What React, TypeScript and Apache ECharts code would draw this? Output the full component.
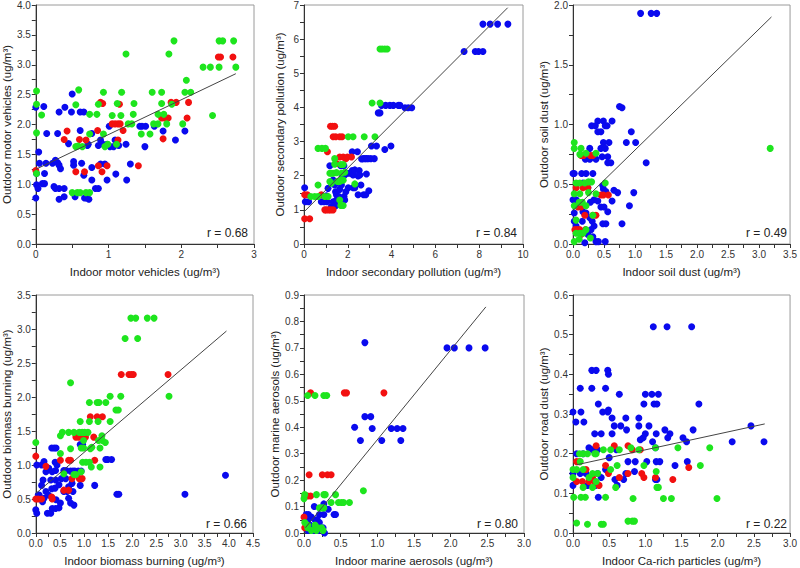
import React, { useEffect, useRef } from "react";
import * as echarts from "echarts";

type P = [number, number];

// ---------- Panel 1: motor vehicles ----------
const p1Blue: P[] = [[0.0,2.29],[0.04,1.54],[0.05,1.35],[0.01,1.18],[0.01,0.99],[0.03,0.93],[0.0,0.77],[0.09,1.01],[0.12,1.01],[0.12,1.18],[0.11,2.30],[0.15,1.85],[0.14,1.35],[0.25,0.96],[0.23,1.35],[0.30,1.36],[0.27,1.40],[0.32,1.32],[0.34,1.26],[0.27,0.93],[0.32,0.93],[0.39,0.93],[0.32,2.21],[0.30,1.85],[0.32,0.75],[0.40,2.29],[0.39,0.79],[0.45,1.68],[0.49,2.21],[0.50,2.51],[0.52,1.38],[0.52,1.32],[0.54,0.79],[0.61,1.90],[0.61,2.21],[0.66,2.21],[0.63,1.35],[0.66,1.15],[0.67,0.77],[0.70,0.77],[0.73,0.75],[0.71,1.65],[0.72,1.67],[0.77,1.85],[0.77,1.07],[0.77,1.28],[0.82,0.93],[0.86,0.93],[0.86,1.65],[0.89,1.74],[0.89,1.34],[0.95,1.34],[0.91,1.68],[0.98,1.07],[1.01,1.97],[0.98,1.67],[1.02,1.63],[1.07,1.63],[1.09,1.74],[1.10,1.17],[1.14,1.65],[1.25,1.07],[1.24,1.67],[1.30,1.34],[1.43,1.97],[1.46,1.97],[1.50,1.63],[1.51,1.97],[1.63,1.97],[1.75,1.89],[1.92,1.74],[2.05,1.89]];
const p1Red: P[] = [[0.0,1.23],[0.43,1.89],[0.39,1.75],[0.55,1.21],[0.60,1.75],[0.67,1.21],[0.69,1.74],[0.85,1.90],[0.86,1.31],[0.89,2.37],[0.92,2.35],[0.91,1.21],[0.98,1.31],[1.05,2.01],[1.09,2.01],[1.13,2.01],[1.16,2.01],[1.13,1.74],[1.15,2.34],[1.20,1.90],[1.41,1.31],[1.73,2.11],[1.77,2.11],[1.82,2.11],[1.75,1.76],[1.86,2.37],[1.93,2.37],[2.08,2.11],[2.10,2.37],[2.51,3.13],[2.54,3.13],[2.71,3.13]];
const p1Green: P[] = [[0.01,2.56],[0.01,2.34],[0.01,1.86],[0.01,1.18],[0.08,2.16],[0.50,0.86],[0.57,0.86],[0.61,0.86],[0.55,1.63],[0.58,1.64],[0.55,2.33],[0.59,2.58],[0.69,0.86],[0.74,0.86],[0.74,2.17],[0.74,1.84],[0.64,1.63],[0.84,2.17],[0.86,2.34],[0.93,2.54],[0.93,1.84],[0.95,1.63],[0.99,1.67],[1.05,2.15],[1.11,1.67],[1.12,2.35],[1.17,2.15],[1.18,2.54],[1.24,3.18],[1.27,2.01],[1.32,2.01],[1.34,2.17],[1.35,2.35],[1.45,1.84],[1.57,1.84],[1.60,2.54],[1.62,2.01],[1.68,2.01],[1.68,2.17],[1.73,2.35],[1.73,2.54],[1.76,2.17],[1.80,2.01],[1.83,3.18],[1.90,3.40],[1.87,2.34],[2.02,2.01],[2.05,2.54],[2.07,2.74],[2.13,2.54],[2.30,2.96],[2.40,2.96],[2.43,2.15],[2.52,2.96],[2.52,3.40],[2.57,3.40],[2.72,3.40],[2.75,2.96]];
const p1Fit: P[] = [[0, 1.25], [2.75, 2.85]];

// ---------- Panel 2: secondary pollution ----------
const p2Blue: P[] = [[0.03,1.65],[0.06,1.24],[0.21,1.24],[0.79,1.24],[0.92,1.24],[1.05,1.24],[1.02,1.41],[1.10,1.63],[1.18,2.29],[1.25,1.10],[1.33,1.24],[1.33,1.87],[1.40,1.73],[1.44,1.53],[1.48,1.44],[1.48,1.29],[1.45,1.12],[1.59,1.39],[1.63,1.60],[1.71,1.73],[1.74,2.00],[1.68,2.29],[1.82,2.29],[1.83,1.39],[1.86,1.29],[1.91,1.53],[1.86,2.02],[1.98,2.07],[2.02,1.65],[2.09,2.07],[2.20,2.15],[2.24,2.02],[2.20,2.70],[2.24,1.65],[2.32,1.65],[2.44,2.70],[2.32,2.17],[2.47,1.99],[2.52,2.15],[2.55,2.02],[2.60,1.73],[2.63,2.49],[2.70,2.50],[2.47,1.44],[2.72,1.44],[2.82,1.44],[2.78,2.50],[2.85,2.50],[2.85,2.05],[2.96,1.56],[2.93,2.50],[3.05,2.50],[3.08,2.87],[3.21,2.50],[3.31,2.87],[3.39,3.84],[3.47,3.84],[3.54,4.06],[3.69,2.77],[3.73,4.06],[3.92,4.06],[3.97,2.87],[4.08,4.06],[4.31,4.06],[4.38,4.06],[4.61,3.99],[4.76,3.99],[4.92,3.99],[7.31,5.64],[7.82,5.64],[7.97,5.64],[8.17,5.64],[8.17,6.44],[8.50,6.44],[8.84,6.44],[9.31,6.44]];
const p2Red: P[] = [[0.03,0.74],[0.26,0.74],[0.03,1.44],[0.15,1.44],[0.79,1.44],[0.95,1.00],[1.02,1.00],[1.13,1.00],[1.22,1.00],[1.33,1.00],[1.07,2.70],[1.21,3.45],[1.30,3.45],[1.40,3.45],[1.33,3.14],[1.45,3.14],[1.63,3.14],[1.74,3.14],[1.63,2.55],[1.79,2.55],[1.91,2.50],[1.98,2.55],[2.17,2.55],[1.48,2.36]];
const p2Green: P[] = [[0.31,1.39],[0.49,1.39],[0.64,1.39],[0.64,1.73],[0.64,2.80],[0.82,2.80],[0.98,2.80],[0.95,1.39],[1.10,1.39],[1.18,1.83],[1.18,2.07],[1.25,1.78],[1.25,2.07],[1.33,2.07],[1.40,2.34],[1.40,2.50],[1.48,2.09],[1.53,1.83],[1.63,1.83],[1.68,1.87],[1.71,2.07],[1.79,1.87],[1.63,1.29],[1.68,1.13],[1.79,1.13],[1.68,2.33],[1.79,2.33],[1.86,2.10],[2.02,3.14],[2.24,3.14],[2.32,1.76],[2.75,3.14],[3.24,3.14],[3.11,4.13],[3.47,4.13],[3.47,5.71],[3.57,5.71],[3.69,5.71],[3.80,5.71]];
const p2Fit: P[] = [[0, 0.94], [9.3, 6.92]];

// ---------- Panel 3: soil dust ----------
const p3Blue: P[] = [[1.09,1.93],[1.26,1.93],[1.35,1.93],[0.75,1.15],[0.79,1.14],[0.40,1.03],[0.49,1.03],[0.63,1.03],[0.30,0.99],[0.36,0.99],[0.52,0.99],[0.55,0.99],[0.40,0.94],[0.45,0.94],[0.94,0.94],[1.01,0.85],[0.86,0.85],[0.49,0.85],[0.58,0.85],[0.27,0.80],[0.45,0.80],[0.52,0.80],[0.20,0.71],[0.27,0.71],[0.37,0.71],[0.47,0.73],[0.56,0.73],[0.56,0.68],[0.61,0.68],[1.18,0.68],[0.02,0.59],[0.14,0.59],[0.21,0.59],[0.32,0.59],[0.16,0.51],[0.24,0.47],[0.48,0.49],[0.49,0.46],[0.53,0.44],[0.66,0.45],[0.72,0.43],[0.98,0.43],[0.63,0.36],[0.91,0.32],[0.34,0.37],[0.40,0.36],[0.45,0.31],[0.50,0.31],[0.56,0.27],[0.28,0.35],[0.02,0.26],[0.0,0.37],[0.05,0.37],[0.16,0.27],[0.21,0.26],[0.27,0.22],[0.31,0.19],[0.34,0.15],[0.29,0.12],[0.15,0.19],[0.05,0.15],[0.02,0.19],[0.24,0.08],[0.32,0.06],[0.19,0.01],[0.37,0.02],[0.41,0.02],[0.52,0.02],[0.48,0.17],[0.53,0.17],[0.79,0.17],[0.0,0.59]];
const p3Red: P[] = [[0.13,0.74],[0.17,0.74],[0.28,0.74],[0.32,0.74],[0.05,0.47],[0.16,0.47],[0.24,0.47],[0.45,0.41],[0.49,0.41],[0.57,0.41],[0.08,0.31],[0.13,0.31],[0.19,0.24],[0.32,0.24],[0.37,0.24],[0.03,0.12],[0.07,0.12],[0.11,0.12],[0.20,0.12],[0.13,0.08]];
const p3Green: P[] = [[0.02,0.85],[0.02,0.80],[0.13,0.80],[0.11,0.75],[0.21,0.76],[0.37,0.76],[0.05,0.51],[0.11,0.51],[0.19,0.51],[0.25,0.52],[0.30,0.52],[0.52,0.51],[0.11,0.42],[0.02,0.42],[0.25,0.43],[0.37,0.42],[0.15,0.35],[0.10,0.35],[0.21,0.32],[0.02,0.32],[0.32,0.24],[0.05,0.20],[0.21,0.12],[0.11,0.09],[0.05,0.09],[0.16,0.09],[0.10,0.04],[0.02,0.02],[0.28,0.05],[3.18,0.80]];
const p3Fit: P[] = [[0, 0.28], [3.2, 1.9]];

// ---------- Panel 4: biomass burning ----------
const p4Blue: P[] = [[0.0,0.34],[0.02,0.29],[0.02,1.00],[0.07,0.56],[0.12,1.00],[0.17,1.05],[0.21,0.90],[0.12,0.70],[0.15,0.78],[0.21,0.61],[0.17,0.51],[0.26,0.56],[0.24,0.29],[0.31,0.29],[0.33,1.25],[0.38,1.25],[0.42,1.25],[0.27,0.95],[0.34,0.90],[0.40,1.04],[0.41,0.92],[0.44,1.00],[0.31,0.78],[0.41,0.78],[0.33,0.65],[0.40,0.66],[0.48,0.71],[0.34,0.51],[0.42,0.49],[0.34,0.36],[0.41,0.36],[0.48,0.37],[0.51,0.44],[0.53,0.80],[0.58,0.92],[0.62,0.80],[0.63,0.92],[0.65,0.61],[0.58,0.61],[0.68,0.51],[0.68,0.68],[0.72,0.91],[0.77,0.91],[0.81,0.91],[0.75,0.73],[0.72,0.44],[0.79,0.41],[0.77,0.61],[0.88,0.91],[0.94,0.91],[0.92,0.70],[0.92,1.30],[0.97,1.30],[1.22,0.70],[1.45,1.08],[1.49,1.08],[1.57,1.08],[1.68,0.57],[1.72,0.57],[3.09,0.57],[3.93,0.85],[0.05,0.56],[0.14,0.46]];
const p4Red: P[] = [[0.0,1.13],[0.0,0.50],[0.05,0.50],[0.12,0.50],[0.21,0.98],[0.33,0.53],[0.34,0.50],[0.51,1.07],[0.68,1.07],[0.72,1.07],[0.58,0.63],[0.68,0.63],[0.75,0.80],[0.90,0.80],[0.96,0.80],[0.83,1.41],[0.89,1.41],[0.96,1.41],[1.03,1.41],[1.13,1.71],[1.27,1.71],[1.38,1.71],[1.20,1.41],[1.22,1.07],[1.77,2.33],[1.93,2.33],[1.98,2.33],[2.02,2.33],[2.74,2.33]];
const p4Green: P[] = [[0.0,1.33],[0.51,1.43],[0.55,1.48],[0.51,1.17],[0.68,1.48],[0.72,1.24],[0.79,1.48],[0.72,2.21],[0.58,0.87],[0.79,0.86],[0.83,0.86],[0.94,0.90],[0.90,1.48],[0.96,1.48],[1.01,1.48],[1.08,1.48],[0.92,1.64],[0.94,1.25],[0.99,1.25],[0.99,1.36],[0.97,1.04],[1.04,1.04],[1.11,1.04],[1.13,1.24],[1.15,0.97],[1.11,1.92],[1.11,1.64],[1.16,1.26],[1.27,1.92],[1.31,1.92],[1.29,1.64],[1.30,1.36],[1.33,1.25],[1.33,0.97],[1.37,1.43],[1.38,1.36],[1.44,1.33],[1.45,1.92],[1.54,2.01],[1.54,1.64],[1.66,1.81],[1.71,1.81],[1.76,2.01],[1.85,2.86],[1.97,3.16],[2.07,3.16],[2.11,2.86],[2.31,3.16],[2.45,3.16],[2.76,2.01]];
const p4Fit: P[] = [[0, 0.58], [3.95, 2.97]];

// ---------- Panel 5: marine aerosols ----------
const p5Blue: P[] = [[0.83,0.72],[1.95,0.70],[2.05,0.70],[2.25,0.70],[2.47,0.70],[0.83,0.44],[0.91,0.44],[0.69,0.40],[0.93,0.395],[1.19,0.395],[1.27,0.395],[1.35,0.395],[0.77,0.35],[1.06,0.35],[1.32,0.35],[0.14,0.10],[0.27,0.11],[0.33,0.09],[0.41,0.07],[0.43,0.07],[0.27,0.07],[0.21,0.07],[0.03,0.07],[0.06,0.07],[0.10,0.06],[0.15,0.05],[0.05,0.05],[0.18,0.05],[0.21,0.04],[0.08,0.03],[0.15,0.02],[0.26,0.02],[0.19,0.01],[0.28,0.0],[0.05,0.01],[0.12,0.01]];
const p5Red: P[] = [[0.0,0.06],[0.01,0.14],[0.05,0.14],[0.09,0.14],[0.07,0.22],[0.25,0.22],[0.32,0.22],[0.37,0.22],[0.09,0.53],[0.55,0.53],[0.58,0.53],[1.09,0.53],[0.01,0.02]];
const p5Green: P[] = [[0.05,0.52],[0.15,0.52],[0.27,0.52],[0.31,0.52],[0.0,0.13],[0.01,0.145],[0.17,0.145],[0.27,0.145],[0.29,0.145],[0.43,0.145],[0.81,0.16],[0.37,0.115],[0.47,0.115],[0.51,0.115],[0.54,0.115],[0.62,0.115],[0.21,0.095],[0.24,0.095],[0.27,0.095],[0.01,0.04],[0.05,0.03],[0.15,0.03],[0.19,0.02],[0.24,0.02],[0.17,0.01],[0.26,0.01],[0.10,0.01],[0.05,0.02]];
const p5Fit: P[] = [[0.02, 0.02], [2.48, 0.855]];

// ---------- Panel 6: road dust ----------
const p6Blue: P[] = [[1.11,0.52],[1.30,0.52],[1.64,0.52],[0.26,0.41],[0.32,0.41],[0.48,0.41],[0.49,0.40],[0.10,0.365],[0.26,0.365],[0.45,0.365],[0.64,0.35],[1.00,0.35],[1.09,0.35],[1.18,0.35],[0.35,0.325],[0.98,0.325],[1.12,0.325],[1.16,0.325],[1.74,0.325],[0.0,0.305],[0.11,0.305],[0.41,0.305],[0.48,0.305],[0.49,0.31],[0.54,0.29],[0.73,0.29],[0.91,0.29],[0.91,0.27],[1.05,0.27],[0.04,0.28],[0.15,0.28],[0.30,0.25],[0.39,0.25],[0.54,0.25],[0.57,0.27],[0.66,0.27],[0.74,0.26],[0.97,0.24],[1.00,0.25],[1.10,0.23],[1.15,0.25],[1.27,0.26],[1.34,0.25],[1.31,0.24],[1.52,0.24],[1.57,0.23],[1.66,0.26],[2.20,0.23],[2.46,0.27],[2.64,0.23],[0.93,0.235],[0.05,0.20],[0.14,0.20],[0.22,0.215],[0.27,0.21],[0.34,0.21],[0.50,0.19],[0.60,0.21],[0.76,0.18],[0.86,0.18],[1.02,0.18],[1.15,0.18],[1.20,0.18],[1.14,0.215],[1.41,0.17],[1.58,0.18],[0.0,0.15],[0.10,0.15],[0.18,0.15],[0.34,0.15],[0.39,0.14],[0.45,0.16],[0.58,0.135],[0.73,0.15],[0.85,0.155],[1.14,0.135],[1.16,0.135],[0.0,0.12],[0.20,0.12],[0.31,0.12],[0.61,0.12],[0.70,0.135],[0.35,0.09]];
const p6Red: P[] = [[0.05,0.18],[0.09,0.18],[0.32,0.22],[0.18,0.16],[0.05,0.13],[0.13,0.13],[0.22,0.13],[0.30,0.13],[0.36,0.12],[0.27,0.14],[0.49,0.15],[0.45,0.17],[0.57,0.22],[0.64,0.14],[0.76,0.15],[0.76,0.22],[0.82,0.21],[0.93,0.21],[0.95,0.15],[0.98,0.14],[1.14,0.14],[1.38,0.135],[1.60,0.165]];
const p6Green: P[] = [[0.09,0.20],[0.14,0.20],[0.20,0.20],[0.30,0.20],[0.32,0.20],[0.42,0.21],[0.52,0.21],[0.64,0.21],[0.80,0.215],[1.14,0.215],[1.45,0.215],[1.89,0.215],[0.0,0.16],[0.05,0.16],[0.10,0.18],[0.14,0.16],[0.27,0.15],[0.34,0.15],[0.52,0.16],[0.61,0.17],[0.91,0.21],[0.98,0.17],[1.15,0.155],[1.76,0.17],[0.0,0.14],[0.14,0.115],[0.22,0.14],[0.27,0.115],[0.32,0.13],[0.59,0.115],[1.16,0.115],[1.18,0.115],[0.01,0.09],[0.11,0.09],[0.17,0.09],[0.45,0.09],[0.83,0.087],[1.25,0.087],[1.36,0.087],[1.99,0.087],[0.05,0.025],[0.20,0.022],[0.39,0.022],[0.42,0.022],[0.76,0.03],[0.82,0.03],[0.85,0.03]];
const p6Fit: P[] = [[0.05, 0.172], [2.65, 0.275]];

const xNames = [
  "Indoor motor vehicles (ug/m³)",
  "Indoor secondary pollution (ug/m³)",
  "Indoor soil dust (ug/m³)",
  "Indoor biomass burning (ug/m³)",
  "Indoor marine aerosols (ug/m³)",
  "Indoor Ca-rich particles (ug/m³)",
];
const yNames = [
  "Outdoor motor vehicles (ug/m³)",
  "Outdoor secondary pollution (ug/m³)",
  "Outdoor soil dust (ug/m³)",
  "Outdoor biomass burning (ug/m³)",
  "Outdoor marine aerosols (ug/m³)",
  "Outdoor road dust (ug/m³)",
];
const rLabels = ["r = 0.68", "r = 0.84", "r = 0.49", "r = 0.66", "r = 0.80", "r = 0.22"];
const xMax = [3, 10, 3.5, 4.5, 3.0, 3.0];
const xStep = [1, 2, 0.5, 0.5, 0.5, 0.5];
const xDec = [0, 0, 1, 1, 1, 1];
const yMax = [4.0, 7, 2.0, 3.5, 0.9, 0.6];
const yStep = [0.5, 1, 0.5, 0.5, 0.1, 0.1];
const yDec = [1, 0, 1, 1, 1, 1];

const blues = [p1Blue, p2Blue, p3Blue, p4Blue, p5Blue, p6Blue];
const reds = [p1Red, p2Red, p3Red, p4Red, p5Red, p6Red];
const greens = [p1Green, p2Green, p3Green, p4Green, p5Green, p6Green];
const fits = [p1Fit, p2Fit, p3Fit, p4Fit, p5Fit, p6Fit];

const BLUE = "#0a0aee";
const RED = "#f21010";
const GREEN = "#1ee51e";
const FONT = "'Liberation Sans', Arial, sans-serif";

// layout (pixels)
const gridBoxes = [
  { left: 34, top: 4, width: 220, height: 240, yGap: 22 },
  { left: 304, top: 4, width: 219, height: 240, yGap: 18 },
  { left: 573, top: 4, width: 220, height: 240, yGap: 22 },
  { left: 33, top: 295, width: 220, height: 240, yGap: 22 },
  { left: 304, top: 295, width: 220, height: 240, yGap: 22 },
  { left: 573, top: 295, width: 220, height: 240, yGap: 22 },
];

export default function App() {
  const ref = useRef<HTMLDivElement>(null);
  useEffect(() => {
    const chart = echarts.init(ref.current as HTMLDivElement, null, { renderer: "svg" });
    const grid: any[] = [];
    const xAxis: any[] = [];
    const yAxis: any[] = [];
    const series: any[] = [];
    const graphic: any[] = [];
    const axisCommon = {
      type: "value",
      nameLocation: "middle",
      nameTextStyle: { fontSize: 11.5, color: "#222", fontFamily: FONT },
      axisLine: { show: true, onZero: false, lineStyle: { color: "#333", width: 1 } },
      axisTick: { show: true, length: 4, lineStyle: { color: "#333" } },
      minorTick: { show: true, splitNumber: 2, length: 4, lineStyle: { color: "#333" } },
      splitLine: { show: false },
    };
    gridBoxes.forEach((g, i) => {
      grid.push({
        left: g.left, top: g.top, width: g.width, height: g.height,
        show: true, borderColor: "#9a9a9a", borderWidth: 1, backgroundColor: "transparent",
      });
      xAxis.push({
        ...axisCommon,
        gridIndex: i, min: 0, max: xMax[i], interval: xStep[i],
        name: xNames[i], nameGap: 22,
        axisLabel: {
          fontSize: 10, color: "#333", fontFamily: FONT, margin: 5,
          formatter: (v: number) => v.toFixed(xDec[i]),
        },
      });
      yAxis.push({
        ...axisCommon,
        gridIndex: i, min: 0, max: yMax[i], interval: yStep[i],
        name: yNames[i], nameGap: g.yGap,
        axisLabel: {
          fontSize: 10, color: "#333", fontFamily: FONT, margin: 5,
          formatter: (v: number) => v.toFixed(yDec[i]),
        },
      });
      const sc = (data: P[], color: string) => ({
        type: "scatter", xAxisIndex: i, yAxisIndex: i, data,
        symbol: "circle", symbolSize: 7, itemStyle: { color, opacity: 1 },
        silent: true,
      });
      series.push(sc(blues[i], BLUE));
      series.push(sc(reds[i], RED));
      series.push(sc(greens[i], GREEN));
      series.push({
        type: "line", xAxisIndex: i, yAxisIndex: i, data: fits[i],
        symbol: "none", lineStyle: { color: "#444", width: 1 }, silent: true, z: 5,
      });
      graphic.push({
        type: "text",
        x: g.left + g.width - 6,
        y: g.top + g.height - 11,
        style: {
          text: rLabels[i], fill: "#222", fontSize: 12, fontFamily: FONT,
          textAlign: "right", textVerticalAlign: "middle",
        },
      });
    });
    chart.setOption({
      animation: false,
      backgroundColor: "#ffffff",
      grid, xAxis, yAxis, series, graphic,
    });
    return () => chart.dispose();
  }, []);
  return (
    <div
      ref={ref}
      style={{ position: "fixed", left: 0, top: 0, width: 800, height: 568 }}
    />
  );
}
